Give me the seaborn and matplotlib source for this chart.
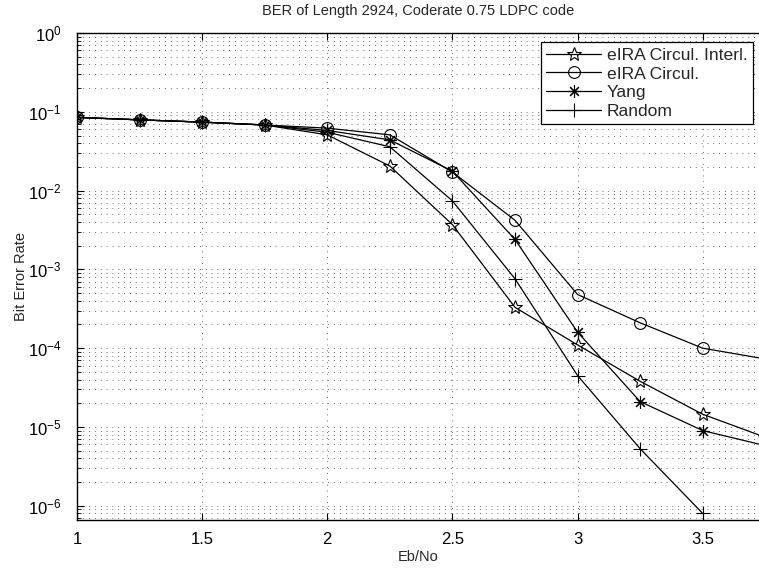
import numpy as np
import pandas as pd
import matplotlib
matplotlib.use("Agg")
import matplotlib.pyplot as plt
import seaborn as sns
from matplotlib.ticker import FixedLocator, LogLocator, NullFormatter, LogFormatterSciNotation

# ---- data ----
ebno = [1.0, 1.25, 1.5, 1.75, 2.0, 2.25, 2.5, 2.75, 3.0, 3.25, 3.5, 3.75]
eira_interl = [0.085, 0.079, 0.074, 0.068, 0.051, 0.0205, 0.0037, 3.3e-4, 1.1e-4, 3.8e-5, 1.45e-5, 7.4e-6]
eira_circ = [0.085, 0.079, 0.074, 0.068, 0.062, 0.051, 0.0172, 0.0042, 4.8e-4, 2.1e-4, 1.0e-4, 7.3e-5]
yang = [0.085, 0.079, 0.074, 0.068, 0.058, 0.044, 0.0176, 0.0024, 1.6e-4, 2.1e-5, 9.0e-6, 5.8e-6]
random_ = [0.085, 0.079, 0.074, 0.068, 0.055, 0.036, 0.0074, 7.6e-4, 4.5e-5, 5.3e-6, 8.0e-7, np.nan]

series_names = ["eIRA Circul. Interl.", "eIRA Circul.", "Yang", "Random"]
series_vals = [eira_interl, eira_circ, yang, random_]

title = "BER of Length 2924, Coderate 0.75 LDPC code"
xlabel = "Eb/No"
ylabel = "Bit Error Rate"
xticks = [1, 1.5, 2, 2.5, 3, 3.5]
xticklabels = ["1", "1.5", "2", "2.5", "3", "3.5"]
yticks = [1e0, 1e-1, 1e-2, 1e-3, 1e-4, 1e-5, 1e-6]

df = pd.concat(
    [pd.DataFrame({"Eb/No": ebno, "BER": v, "code": n}) for n, v in zip(series_names, series_vals)],
    ignore_index=True,
).dropna()

sns.set_style("ticks")
plt.rcParams["font.family"] = ["Liberation Sans", "DejaVu Sans"]
plt.rcParams["mathtext.fontset"] = "custom"
plt.rcParams["mathtext.rm"] = "Liberation Sans"
plt.rcParams["mathtext.it"] = "Liberation Sans:italic"

fig = plt.figure(figsize=(7.59, 5.72), dpi=100)
ax = fig.add_axes([77 / 759, 1 - 520 / 572, 1 - 77 / 759, (520 - 33) / 572])

markers = {
    "eIRA Circul. Interl.": "*",
    "eIRA Circul.": "o",
    "Yang": (8, 2, 0),
    "Random": "+",
}
msizes = {"eIRA Circul. Interl.": 10, "eIRA Circul.": 8.5, "Yang": 9, "Random": 10}

for name in series_names:
    sub = df[df["code"] == name]
    sns.lineplot(
        data=sub, x="Eb/No", y="BER", ax=ax, color="black", linewidth=0.9,
        marker=markers[name], markersize=msizes[name], markerfacecolor="none",
        markeredgecolor="black", markeredgewidth=0.8, label=name, legend=False,
    )

ax.set_yscale("log")
ax.set_xlim(1, 3.725)
ax.set_ylim(6.6e-7, 1)
ax.set_xticks(xticks)
ax.set_xticklabels(xticklabels)
ax.yaxis.set_major_locator(FixedLocator(yticks))
ax.yaxis.set_major_formatter(LogFormatterSciNotation())
ax.yaxis.set_minor_locator(LogLocator(base=10, subs=np.arange(2, 10), numticks=100))
ax.yaxis.set_minor_formatter(NullFormatter())

gstyle = dict(linestyle=(0, (1, 6)), color="black", linewidth=0.6, alpha=0.75)
ax.grid(True, which="major", axis="both", **gstyle)
ax.grid(True, which="minor", axis="y", **gstyle)

ax.tick_params(which="both", direction="in", top=True, right=False, colors="black")
ax.tick_params(axis="x", which="major", labelsize=12, length=5, width=0.8, pad=9)
ax.tick_params(axis="y", which="major", labelsize=12, length=5, width=0.8, pad=11)
ax.tick_params(which="minor", length=3, width=0.6)
ax.spines["right"].set_visible(False)
for s in ["left", "bottom", "top"]:
    ax.spines[s].set_linewidth(1.0)
    ax.spines[s].set_color("black")

ax.set_title(title, fontsize=10.5, pad=13)
ax.set_xlabel(xlabel, fontsize=10.5, labelpad=2)
ax.set_ylabel(ylabel, fontsize=10.5, labelpad=0)

leg = ax.legend(loc="upper right", bbox_to_anchor=(0.991, 0.981), fontsize=12.6, frameon=True,
                fancybox=False, edgecolor="black", framealpha=1, borderpad=0.3,
                handlelength=3.1, labelspacing=0.2, handletextpad=0.35, borderaxespad=0.0)
leg.get_frame().set_linewidth(0.9)

fig.savefig("out.png", dpi=100)
